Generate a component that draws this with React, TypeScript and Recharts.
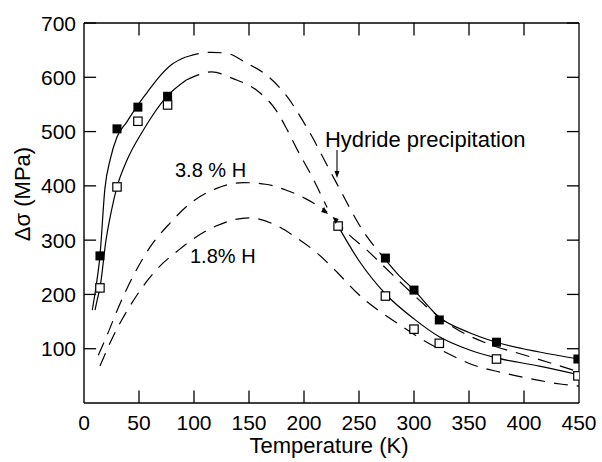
import { ComposedChart, Line, Scatter, XAxis, YAxis, ReferenceLine } from "recharts";

const W = 602;
const H = 462;
const FONT = "'Liberation Sans', Arial, sans-serif";

const xTicks = [0, 50, 100, 150, 200, 250, 300, 350, 400, 450];
const yTicks = [100, 200, 300, 400, 500, 600, 700];

// measured points [T (K), Δσ (MPa)]
const filledPts = [[14.5, 271], [30, 505], [49, 545], [76, 565], [274, 267], [300, 208], [323, 153], [375, 112], [449, 81]];
const openPts = [[14.5, 212], [30, 398], [49, 519], [76, 549], [231, 326], [274, 197], [300, 136], [323, 110], [375, 81], [449, 50]];

// solid fits through the data
const filledLow = [[7.5, 171], [11, 215], [14.5, 271], [19, 395], [24, 450], [30, 490], [39, 518], [48, 546], [57, 571], [68, 600], [80, 624], [92, 637]];
const openLow = [[10, 171], [12, 190], [14.5, 212], [20, 300], [25, 355], [30, 398], [39, 447], [54, 503], [75, 564], [93, 595]];
const filledHigh = [[269, 276], [274, 264], [285, 238], [300, 208], [323, 158], [350, 130], [375, 112], [414, 94], [450, 81]];
const openHigh = [[231, 326], [250, 262], [275, 199], [300, 155], [323, 122], [350, 98], [375, 83], [414, 68], [450, 52]];

// dashed model curves
const dashUpper = [[92, 637], [105, 644], [116, 646], [130, 644], [148, 626], [166, 604], [184, 566], [203, 506], [228, 411], [255, 313], [269, 276]];
const dashSecond = [[93, 595], [105, 605], [116, 610], [135, 598], [157, 576], [175, 538], [184, 506], [193, 470], [207, 418], [221, 360]];
const dashTail = [[227, 341], [240, 312], [257, 282], [272, 253], [292, 214], [310, 180], [334, 142], [366, 110], [401, 88], [430, 70], [450, 57]];
const dash38 = [[13, 88], [21, 125], [30, 170], [45, 235], [60, 287], [78, 331], [95, 365], [120, 395], [145, 406], [165, 403], [184, 392], [201, 377], [216, 359], [221, 352]];
const dash18 = [[14.5, 68], [28, 129], [41, 176], [57, 224], [72, 258], [85, 280], [95, 296], [120, 326], [150, 341], [174, 328], [192, 306], [212, 276], [231, 239], [248, 203], [287, 144], [305, 120], [330, 92], [354, 70], [378, 57], [403, 46], [433, 35], [450, 31]];

const pts = (a: number[][]) => a.map(([t, v]) => ({ t, v }));

// plot box (px), same as the chart margins below; used to place the notes
const L = 84, R = 579, T0 = 23, B = 403;
const sx = (t: number) => L + ((R - L) * t) / 450;
const sy = (v: number) => B - ((B - T0) * v) / 700;
// inward tick length in data units (about 12 px)
const tickT = 11;
const tickV = 23;

const ink = "#000";

const BottomTick = (p: any) => (
  <text x={p.x} y={p.y + 27} textAnchor="middle" fontSize={21} fontFamily={FONT} fill={ink}>
    {p.payload.value}
  </text>
);

const LeftTick = (p: any) => (
  <text x={p.x - 8} y={p.y + 7.5} textAnchor="end" fontSize={21} fontFamily={FONT} fill={ink}>
    {p.payload.value}
  </text>
);

const FilledSquare = (p: any) => <rect x={p.cx - 4.5} y={p.cy - 4.5} width={9} height={9} fill={ink} />;
const OpenSquare = (p: any) => (
  <rect x={p.cx - 4.2} y={p.cy - 4.2} width={8.4} height={8.4} fill="#fff" stroke={ink} strokeWidth={1.2} />
);

const solid = { stroke: ink, strokeWidth: 1.2, dot: false, isAnimationActive: false, type: "monotone" as const };
const dashed = { ...solid, strokeDasharray: "14 9" };
const frameStroke = { stroke: ink, strokeWidth: 1.3, ifOverflow: "visible" as const };

export default function App() {
  const arrowX = sx(230);
  const inner = xTicks.filter((t) => t > 0 && t < 450);
  return (
    <div style={{ position: "absolute", left: 0, top: 0, width: W, height: H, background: "#fff" }}>
      <ComposedChart width={W} height={H} margin={{ top: T0, right: W - R, bottom: 29, left: 0 }}>
        <XAxis
          type="number"
          dataKey="t"
          domain={[0, 450]}
          ticks={xTicks}
          allowDataOverflow
          height={30}
          tickSize={0}
          tickMargin={0}
          tickLine={false}
          axisLine={{ stroke: ink, strokeWidth: 1.4 }}
          tick={BottomTick}
          interval={0}
        />
        <YAxis
          type="number"
          dataKey="v"
          domain={[0, 700]}
          ticks={yTicks}
          allowDataOverflow
          width={L}
          tickSize={0}
          tickMargin={0}
          tickLine={false}
          axisLine={{ stroke: ink, strokeWidth: 1.4 }}
          tick={LeftTick}
          interval={0}
        />

        <ReferenceLine y={700} {...frameStroke} />
        <ReferenceLine x={450} {...frameStroke} />
        {inner.map((t) => (
          <ReferenceLine key={"b" + t} segment={[{ x: t, y: 0 }, { x: t, y: tickV }]} {...frameStroke} />
        ))}
        {inner.map((t) => (
          <ReferenceLine key={"t" + t} segment={[{ x: t, y: 700 }, { x: t, y: 700 - tickV }]} {...frameStroke} />
        ))}
        {yTicks.map((v) => (
          <ReferenceLine key={"l" + v} segment={[{ x: 0, y: v }, { x: tickT, y: v }]} {...frameStroke} />
        ))}
        {yTicks.map((v) => (
          <ReferenceLine key={"r" + v} segment={[{ x: 450, y: v }, { x: 450 - tickT, y: v }]} {...frameStroke} />
        ))}

        <Line data={pts(filledLow)} dataKey="v" {...solid} />
        <Line data={pts(openLow)} dataKey="v" {...solid} />
        <Line data={pts(filledHigh)} dataKey="v" {...solid} />
        <Line data={pts(openHigh)} dataKey="v" {...solid} />
        <Line data={pts(dashUpper)} dataKey="v" {...dashed} />
        <Line data={pts(dashSecond)} dataKey="v" {...dashed} />
        <Line data={pts(dashTail)} dataKey="v" {...dashed} />
        <Line data={pts(dash38)} dataKey="v" {...dashed} />
        <Line data={pts(dash18)} dataKey="v" {...dashed} />

        <Scatter data={pts(openPts)} shape={OpenSquare} isAnimationActive={false} />
        <Scatter data={pts(filledPts)} shape={FilledSquare} isAnimationActive={false} />
      </ComposedChart>

      <svg width={W} height={H} style={{ position: "absolute", left: 0, top: 0, pointerEvents: "none" }}>
        <g fontFamily={FONT} fill={ink}>
          <text x={sx(219)} y={147} fontSize={22}>Hydride precipitation</text>
          <text x={175} y={177} fontSize={20}>3.8 % H</text>
          <text x={190} y={263} fontSize={20}>1.8% H</text>
          <text x={329} y={453} fontSize={22} textAnchor="middle">Temperature (K)</text>
          <text transform="translate(30,194) rotate(-90)" fontSize={22} textAnchor="middle">Δσ (MPa)</text>
        </g>
        <path d={`M${arrowX},150V172`} stroke={ink} strokeWidth={1.1} fill="none" />
        <path d={`M${arrowX - 2.5},${171} L${arrowX + 2.5},${171} L${arrowX},${178} Z`} fill={ink} />
        <path d={`M${sx(221) + 1},${sy(352) + 2} l-7,-2 l3,-5 Z`} fill={ink} />
        <path d={`M${sx(227) - 1},${sy(341) - 1} l6,2 l-3,5 Z`} fill={ink} />
      </svg>
    </div>
  );
}
